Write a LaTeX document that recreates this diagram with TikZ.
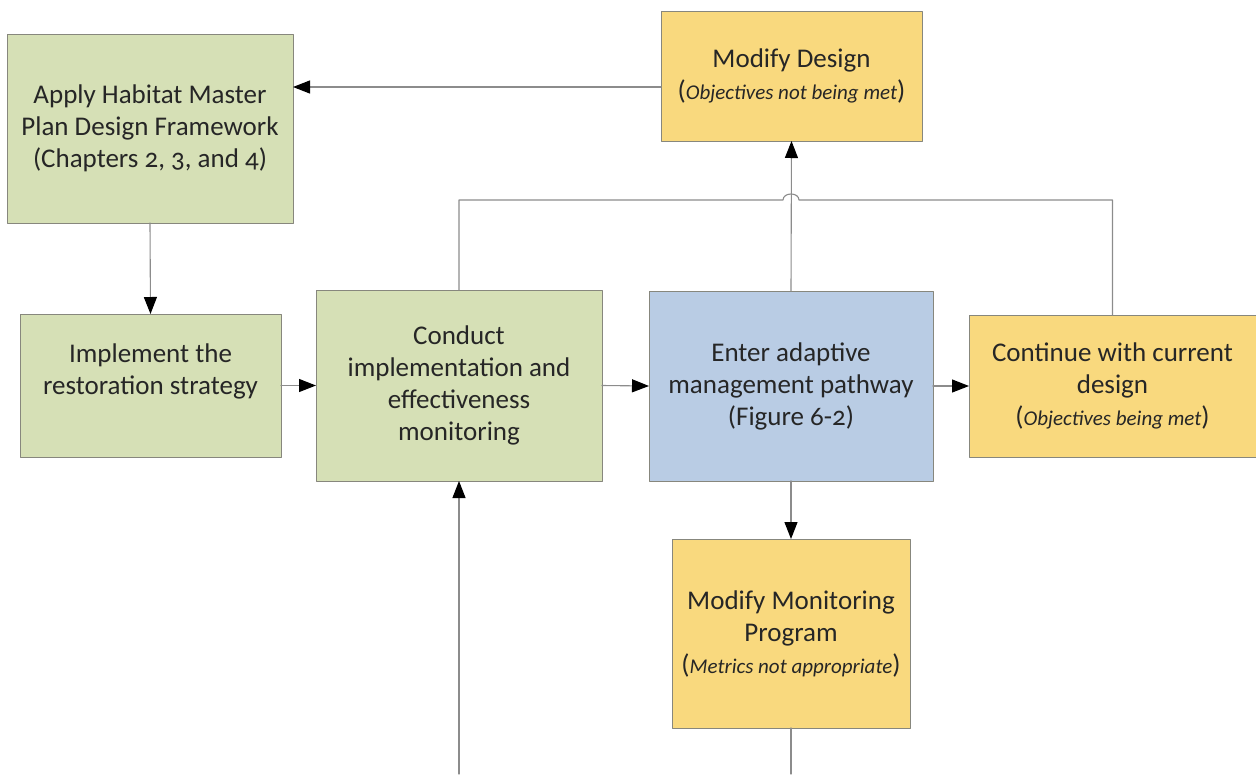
\documentclass[tikz,border=0pt]{standalone}
\usepackage{fontspec}
\setmainfont{Carlito}[Numbers=OldStyle]
\usepackage{tikz}
\usetikzlibrary{arrows.meta}
\definecolor{plangreen}{RGB}{214,224,182}
\definecolor{choiceyellow}{RGB}{249,217,126}
\definecolor{pathblue}{RGB}{185,204,228}
\definecolor{linegray}{RGB}{140,140,140}
\definecolor{boxedge}{RGB}{135,135,125}
\newcommand{\subnote}[1]{(\textit{\fontsize{21}{32}\selectfont #1})}

\begin{document}
\begin{tikzpicture}[x=1pt,y=-1pt,line cap=round,line join=round]
    % styles
    \tikzstyle{box}=[draw=boxedge,line width=1pt,inner sep=0pt,outer sep=0pt,align=center,
                     text=black!85,font=\fontsize{27}{32}\selectfont]
    \tikzstyle{plan}=[box,fill=plangreen]
    \tikzstyle{choice}=[box,fill=choiceyellow]
    \tikzstyle{pathway}=[box,fill=pathblue]
    \tikzstyle{link}=[draw=linegray,line width=1.1pt]
    \tikzstyle{flow}=[link,-{Triangle[length=17pt,width=13pt,color=black]}]

    \useasboundingbox (0,0) rectangle (1256,774);

    % ----------------------------------------------------
    % boxes
    % ----------------------------------------------------
    \node[plan,minimum width=286pt,minimum height=189pt] (apply) at (150,128.5)
      {Apply Habitat Master\\Plan Design Framework\\(Chapters 2, 3, and 4)};
    \node[choice,minimum width=261pt,minimum height=130pt] (moddes) at (791.5,76)
      {Modify Design\\\subnote{Objectives not being met}};
    \node[plan,minimum width=261pt,minimum height=143pt] (implement) at (150.5,385.5)
      {Implement the\\restoration strategy\\\mbox{}};
    \node[plan,minimum width=286pt,minimum height=191pt] (conduct) at (459,385.5)
      {Conduct\\implementation and\\effectiveness\\monitoring};
    \node[pathway,minimum width=284pt,minimum height=190pt] (enter) at (791,386)
      {Enter adaptive\\management pathway\\(Figure 6-2)};
    \node[choice,minimum width=287pt,minimum height=142pt] (continue) at (1112.5,386)
      {Continue with current\\design\\\subnote{Objectives being met}};
    \node[choice,minimum width=238pt,minimum height=189pt] (modmon) at (791,633.5)
      {Modify Monitoring\\Program\\\subnote{Metrics not appropriate}};

    % loose ends and the jump over the pathway arrow
    \coordinate (inbot) at (conduct.south |- 0,774);
    \coordinate (outbot) at (modmon.south |- 0,774);
    \coordinate (jumpl) at (783,200);
    \coordinate (jumpr) at (799,200);

    % ----------------------------------------------------
    % connectors
    % ----------------------------------------------------
    \draw[flow] ([yshift=-11pt]moddes.west) coordinate (md) -- (md -| apply.east);
    \draw[flow] (apply.south) -- (implement.north);
    \draw[flow] (implement.east) -- (implement.east -| conduct.west);
    \draw[flow] (conduct.east) -- (enter.west);
    \draw[flow] (enter.east) -- (continue.west);
    \draw[flow] (enter.north) -- (moddes.south);
    \draw[flow] (enter.south) -- (modmon.north);
    \draw[flow] (inbot) -- (conduct.south);
    \draw[link] (modmon.south) -- (outbot);

    % feedback line (hops over the arrow to Modify Design)
    \draw[link] (conduct.north) |- (jumpl)
       .. controls (783,192) and (799,192) .. (jumpr)
       -| (continue.north);
\end{tikzpicture}
\end{document}
